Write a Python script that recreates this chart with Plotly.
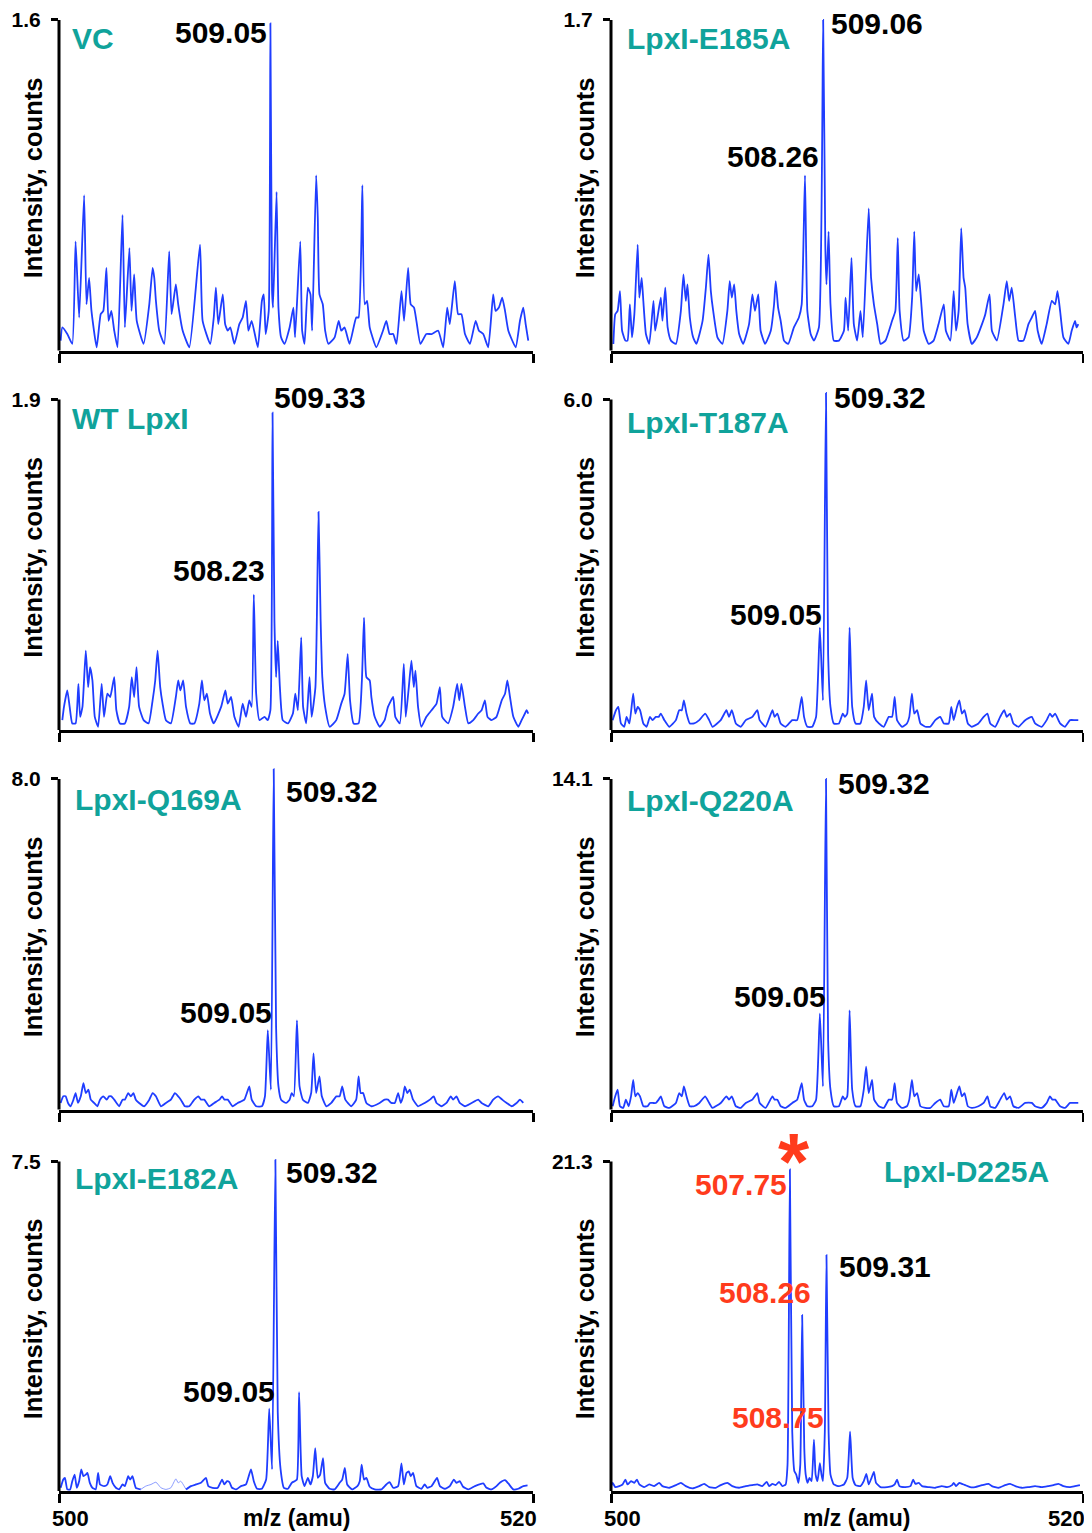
import plotly.graph_objects as go

W, H = 1076, 1533

# ------------------------------------------------------------------ data
panel_titles = ["VC", "LpxI-E185A", "WT LpxI", "LpxI-T187A",
                "LpxI-Q169A", "LpxI-Q220A", "LpxI-E182A", "LpxI-D225A"]
axis_max = [1.6, 1.7, 1.9, 6.0, 8.0, 14.1, 7.5, 21.3]   # top tick value (counts)
mz_range = [500, 520]
mz_ticks = [500, 520]
x_title = "m/z (amu)"
y_title = "Intensity, counts"

# spectra: m/z and intensity as % of each panel's top tick value
vc_mz = [500.07,500.14,500.35,500.56,500.70,500.85,501.06,501.16,501.27,501.37,
         501.59,501.76,501.87,502.00,502.09,502.21,502.33,502.47,502.68,502.78,
         502.97,503.06,503.17,503.28,503.57,503.81,503.95,504.02,504.09,504.23,
         504.44,504.65,504.75,504.93,505.03,505.22,505.50,505.95,506.06,506.38,
         506.53,506.62,506.72,506.91,507.01,507.12,507.23,507.40,507.61,507.75,
         507.89,507.99,508.13,508.39,508.56,508.64,508.72,508.85,508.92,508.99,
         509.03,509.18,509.26,509.37,509.51,509.73,509.89,509.96,510.18,510.26,
         510.36,510.50,510.61,510.68,510.85,510.92,510.99,511.13,511.23,511.37,
         511.63,511.80,511.91,512.05,512.26,512.54,512.64,512.80,512.90,513.00,
         513.11,513.39,513.67,513.81,513.95,514.10,514.24,514.45,514.56,514.73,
         514.84,514.98,515.08,515.25,515.50,515.72,516.00,516.21,516.38,516.49,
         516.70,516.84,516.98,517.13,517.34,517.58,517.72,517.90,518.11,518.32,
         518.42,518.56,518.70,518.82,518.96,519.27,519.45,519.59,519.69,519.80]
vc_pct = [3,7,5,2,33,10,47,14,22,12,
          1,11,12,25,9,12,6,1,41,7,
          31,12,23,9,2,14,25,22,15,6,
          2,30,11,20,14,6,1,32,9,2,
          10,19,8,17,8,6,7,2,8,10,
          15,6,9,1,15,17,5,12,99,18,
          13,48,13,4,2,7,13,4,33,6,
          2,19,17,6,53,40,17,14,6,2,
          4,9,6,7,2,10,10,50,14,15,
          7,1,6,9,5,5,2,18,9,25,
          14,13,9,2,5,5,6,1,13,8,
          21,11,11,5,2,9,6,5,1,17,
          12,13,16,12,6,1,9,13,8,3]

e185a_mz = [500.10,500.18,500.28,500.38,500.47,500.61,500.70,500.80,500.89,500.99,
            501.13,501.20,501.30,501.37,501.48,501.62,501.80,501.87,501.97,502.11,
            502.18,502.30,502.40,502.54,502.75,502.96,503.07,503.17,503.24,503.34,
            503.48,503.62,503.88,504.02,504.13,504.23,504.33,504.51,504.72,504.93,
            505.03,505.12,505.22,505.31,505.43,505.60,505.85,505.99,506.10,506.24,
            506.34,506.53,506.77,506.91,506.98,507.08,507.19,507.33,507.51,507.75,
            507.96,508.08,508.22,508.32,508.46,508.60,508.81,508.99,509.08,509.13,
            509.22,509.30,509.44,509.66,509.87,509.94,510.05,510.19,510.29,510.43,
            510.57,510.67,510.92,511.02,511.14,511.28,511.42,511.63,511.91,512.05,
            512.15,512.23,512.40,512.61,512.76,512.85,512.93,513.04,513.14,513.25,
            513.46,513.67,513.88,514.10,514.19,514.38,514.52,514.62,514.73,514.84,
            514.94,515.01,515.11,515.29,515.50,515.72,515.86,516.04,516.14,516.35,
            516.63,516.77,516.87,516.98,517.13,517.27,517.48,517.69,517.83,517.97,
            518.08,518.25,518.46,518.68,518.82,518.92,519.03,519.17,519.38,519.52,
            519.66,519.73,519.80]
e185a_pct = [2,11,12,18,6,3,3,14,4,11,
             32,16,22,15,5,2,15,6,10,16,
             9,19,7,3,2,12,23,15,20,10,
             4,2,9,19,29,18,12,4,2,12,
             21,16,20,12,5,2,8,17,12,17,
             6,2,6,14,21,13,9,3,2,7,
             10,14,53,12,5,3,7,100,32,20,
             36,14,3,3,6,16,6,28,8,3,
             12,4,43,22,14,8,2,3,9,12,
             34,12,3,4,16,36,18,23,15,6,
             2,3,8,14,6,3,18,6,12,37,
             22,19,8,2,4,8,11,17,6,3,
             14,21,15,19,10,3,3,8,10,12,
             6,2,8,15,14,18,12,4,2,6,
             9,7,8]

wt_mz = [500.14,500.21,500.35,500.45,500.56,500.70,500.82,500.89,500.99,501.13,
         501.23,501.31,501.41,501.51,501.65,501.80,501.90,502.04,502.16,502.33,
         502.42,502.57,502.78,502.96,503.07,503.17,503.27,503.38,503.57,503.78,
         503.95,504.06,504.16,504.27,504.37,504.51,504.72,504.93,505.03,505.12,
         505.24,505.36,505.54,505.71,505.92,506.03,506.13,506.24,506.37,506.53,
         506.84,507.02,507.12,507.26,507.40,507.58,507.75,507.89,508.03,508.13,
         508.22,508.32,508.46,508.67,508.81,508.92,509.01,509.09,509.16,509.23,
         509.32,509.44,509.66,509.87,509.97,510.08,510.22,510.30,510.43,510.57,
         510.66,510.82,510.95,511.04,511.11,511.23,511.42,511.70,511.91,512.05,
         512.18,512.28,512.43,512.64,512.78,512.87,512.97,513.11,513.18,513.32,
         513.53,513.74,513.88,514.10,514.19,514.38,514.55,514.63,514.76,514.87,
         514.97,515.04,515.15,515.29,515.50,515.72,515.93,516.07,516.17,516.42,
         516.63,516.80,516.89,516.98,517.13,517.27,517.48,517.69,517.83,517.97,
         518.08,518.25,518.46,518.68,518.82,518.92,519.03,519.17,519.38,519.52,
         519.66,519.73,519.80]
wt_pct = [3,7,12,7,2,2,14,4,7,24,
          13,19,15,4,1,14,4,11,10,16,
          6,2,2,7,16,10,19,7,3,2,
          9,15,24,13,8,3,2,10,15,12,
          15,7,2,2,8,15,9,11,5,2,
          7,12,8,10,4,1,8,4,9,7,
          41,11,3,4,3,6,96,33,16,27,
          13,3,2,5,11,6,28,7,2,16,
          4,13,66,33,16,7,1,3,8,11,
          23,9,2,2,15,34,16,15,10,4,
          1,3,7,10,4,2,20,4,13,21,
          13,18,7,1,4,6,8,13,4,2,
          7,14,9,14,7,2,3,5,6,9,
          4,3,4,9,11,15,10,4,1,3,
          5,6,5]

t187a_mz = [500.07,500.21,500.31,500.42,500.56,500.66,500.78,500.94,501.03,501.13,
            501.23,501.37,501.51,501.65,501.76,501.90,502.02,502.11,502.26,502.47,
            502.75,502.89,503.00,503.09,503.20,503.34,503.52,503.74,503.99,504.16,
            504.30,504.65,504.89,505.00,505.12,505.29,505.50,505.71,505.99,506.20,
            506.30,506.55,506.84,506.93,507.05,507.19,507.40,507.68,507.89,508.08,
            508.18,508.32,508.53,508.69,508.85,508.98,509.11,509.20,509.30,509.44,
            509.66,509.82,509.91,510.01,510.11,510.22,510.36,510.57,510.71,510.81,
            510.92,511.06,511.15,511.35,511.56,511.77,511.91,512.02,512.12,512.33,
            512.54,512.64,512.75,512.85,512.97,513.11,513.32,513.53,513.74,513.95,
            514.10,514.31,514.42,514.52,514.66,514.76,514.87,514.98,515.12,515.29,
            515.57,515.79,515.95,516.07,516.28,516.49,516.66,516.77,516.91,517.05,
            517.27,517.55,517.83,517.97,518.25,518.46,518.60,518.70,518.82,519.03,
            519.24,519.45,519.66,519.80]
t187a_pct = [3,6,7,2,1,4,2,11,5,7,
             6,2,1,4,3,4,4,5,3,1,
             3,6,6,9,5,2,2,3,5,3,
             1,3,6,4,6,2,1,3,4,6,
             3,1,6,4,5,2,1,3,3,10,
             4,1,1,4,31,9,102,23,7,2,
             2,5,4,5,31,7,2,2,7,15,
             6,11,4,2,1,4,4,10,3,1,
             2,4,11,5,6,2,1,1,3,4,
             2,2,7,3,7,9,5,6,2,1,
             2,4,5,2,1,4,6,4,5,2,
             1,3,4,2,1,3,5,4,5,2,
             1,3,3,3]

q169a_mz = [500.07,500.18,500.28,500.38,500.49,500.61,500.70,500.80,500.92,501.03,
            501.13,501.24,501.34,501.48,501.62,501.73,501.87,502.02,502.11,502.21,
            502.33,502.54,502.68,502.78,502.92,503.03,503.14,503.24,503.38,503.59,
            503.81,503.95,504.09,504.30,504.51,504.72,504.89,505.03,505.14,505.31,
            505.50,505.71,505.88,505.99,506.13,506.34,506.55,506.77,506.88,506.98,
            507.12,507.33,507.54,507.82,508.03,508.13,508.32,508.56,508.69,508.81,
            508.94,509.06,509.16,509.26,509.37,509.58,509.73,509.82,509.91,510.04,
            510.15,510.29,510.50,510.64,510.74,510.85,510.99,511.09,511.28,511.49,
            511.70,511.84,511.95,512.08,512.33,512.54,512.64,512.73,512.83,512.97,
            513.18,513.53,513.74,513.88,514.02,514.17,514.31,514.42,514.52,514.59,
            514.70,514.80,514.94,515.15,515.43,515.65,515.81,515.93,516.14,516.35,
            516.53,516.63,516.77,516.91,517.13,517.41,517.69,517.83,518.11,518.32,
            518.53,518.70,518.89,519.10,519.31,519.45,519.59]
q169a_pct = [2,4,4,2,1,3,5,2,4,8,
             5,6,3,2,1,3,4,3,4,4,
             3,1,3,3,5,4,5,3,2,1,
             3,5,4,1,2,3,5,4,3,1,
             1,3,4,3,3,1,2,3,4,3,
             3,1,2,3,7,3,1,1,4,24,
             6,103,25,7,3,2,3,5,4,27,
             7,3,2,5,17,5,10,4,1,2,
             4,4,7,3,1,3,10,5,5,2,
             1,2,3,3,2,2,5,2,4,7,
             5,6,3,1,2,3,4,2,1,2,
             4,3,4,2,1,2,3,2,1,3,
             4,3,2,1,2,3,2]

q220a_mz = [500.07,500.18,500.28,500.38,500.52,500.63,500.75,500.85,500.94,501.03,
            501.13,501.23,501.37,501.55,501.65,501.76,501.90,502.02,502.11,502.26,
            502.47,
            502.75,502.89,503.00,503.09,503.20,503.34,503.52,503.74,503.99,504.16,
            504.30,504.65,504.89,505.00,505.12,505.29,505.50,505.71,505.99,506.20,
            506.30,506.55,506.84,506.93,507.05,507.19,507.40,507.68,507.89,508.08,
            508.18,508.32,508.53,508.69,508.85,508.98,509.11,509.20,509.30,509.44,
            509.66,509.82,509.91,510.01,510.11,510.22,510.36,510.57,510.71,510.81,
            510.92,511.06,511.15,511.35,511.56,511.77,511.91,512.02,512.12,512.33,
            512.54,512.64,512.75,512.85,512.97,513.11,513.32,513.53,513.74,513.95,
            514.10,514.31,514.42,514.52,514.66,514.76,514.87,514.98,515.12,515.29,
            515.57,515.79,515.95,516.07,516.28,516.49,516.66,516.77,516.91,517.05,
            517.27,517.55,517.83,517.97,518.25,518.46,518.60,518.70,518.82,519.03,
            519.24,519.45,519.66,519.80]
q220a_pct = [1,4,6,1,0.5,3,1,4,9,4,
             5,4,1,1,2,2,2,3,4,1,
             0.5,
             2,5,4,7,4,1,1,2,4,2,
             0.5,2,4,3,4,1,0.5,2,3,5,
             2,0.5,4,3,3,1,0.5,2,3,8,
             3,1,1,3,29,7,100,21,6,1,
             1,4,3,4,30,6,1,1,6,13,
             5,9,3,1,0.5,3,3,8,2,0.5,
             1,3,9,4,5,1,0.5,0.5,2,3,
             1,1,6,2,5,7,4,5,1,0.5,
             1,2,4,1,0.5,3,5,3,4,1,
             0.5,2,2,1,0.5,2,4,3,3,1,
             0.5,2,2,2]

e182a_mz = [500.07,500.18,500.25,500.35,500.47,500.56,500.66,500.75,500.85,500.94,
            501.03,501.13,501.20,501.30,501.41,501.55,501.65,501.73,501.90,502.04,
            502.16,502.26,502.40,502.54,502.68,502.78,502.92,503.00,503.10,503.24,
            503.45,503.66,503.88,504.09,504.30,504.51,504.72,504.93,505.03,505.14,
            505.36,505.57,505.78,505.99,506.20,506.30,506.48,506.70,506.88,506.98,
            507.09,507.19,507.30,507.47,507.68,507.89,508.10,508.22,508.36,508.56,
            508.74,508.87,508.99,509.13,509.23,509.35,509.49,509.66,509.82,509.94,
            510.04,510.13,510.24,510.36,510.50,510.61,510.71,510.81,510.92,511.02,
            511.14,511.23,511.42,511.63,511.84,511.95,512.06,512.16,512.37,512.59,
            512.69,512.77,512.87,512.97,513.11,513.32,513.60,513.81,513.95,514.10,
            514.31,514.45,514.55,514.66,514.76,514.84,514.94,515.08,515.29,515.43,
            515.54,515.72,515.95,516.07,516.28,516.49,516.66,516.77,516.91,517.05,
            517.27,517.55,517.90,518.04,518.25,518.46,518.60,518.82,518.96,519.17,
            519.38,519.59,519.77]
e182a_pct = [1,3.5,4,0.5,0.5,3,5,1,3,6.6,
             4.5,5,5.5,2.5,1,0.5,5.5,2,1.5,2,
             4.5,2.5,1,0.5,2,1.5,4.5,3.5,4.5,1,
             0.5,1.5,2,2.7,1,0.5,1,3.7,2.5,3,
             0.5,1.5,2,2.5,4,1.5,1,1,3.5,2,
             3,2.7,1,0.5,1.5,2,6.6,3,0.7,0.7,
             3.5,25,6.6,100.5,24,6.6,1,0.7,2.5,3,
             3.5,30,4.5,1.5,4,2,4.5,13,4,5,
             10,2.5,0.7,0.5,2.5,3.5,7,2,0.5,1.5,
             3,8,3.5,4,1.3,0.5,0.5,2,2.7,1,
             1.5,8.4,2,5.5,6,4.5,5.5,1.5,0.7,2,
             1,1.5,4,1.5,0.7,1.5,3.5,2.5,3,1.3,
             0.5,1.5,2.3,1,0.5,1.5,2.5,3.3,2.3,0.5,
             0.7,1.5,1.7]
e182a_faint = (503.45, 505.36)   # stretch drawn with a thinner, fainter line

d225a_mz = [500.00,500.07,500.18,500.35,500.49,500.61,500.70,500.85,500.99,501.10,
            501.20,501.41,501.62,501.83,502.04,502.18,502.47,502.75,502.96,503.17,
            503.45,503.74,503.95,504.16,504.44,504.65,504.93,505.14,505.43,505.71,
            505.99,506.20,506.41,506.60,506.70,506.84,506.98,507.12,507.26,507.40,
            507.48,507.58,507.68,507.77,507.85,507.94,508.02,508.10,508.19,508.25,
            508.33,508.41,508.50,508.60,508.67,508.75,508.85,508.92,508.98,509.06,
            509.13,509.22,509.30,509.44,509.66,509.87,510.01,510.13,510.24,510.36,
            510.57,510.71,510.82,510.92,511.04,511.14,511.23,511.42,511.70,511.91,
            512.02,512.12,512.22,512.47,512.69,512.80,512.90,513.04,513.18,513.46,
            513.74,514.02,514.24,514.45,514.52,514.62,514.76,514.87,515.01,515.22,
            515.43,515.72,516.00,516.14,516.42,516.70,516.91,517.13,517.41,517.69,
            517.97,518.25,518.53,518.75,518.96,519.17,519.45,519.66,519.87]
d225a_pct = [1.5,2.5,1.2,1.5,2,3.5,2,3,2.5,3.5,
             2,1.2,2,1.5,2.5,1.5,1,1.8,2.5,1.5,
             0.8,1.5,2.2,1.2,1,1.8,2.5,1.5,1,1.5,
             1.8,2,1.5,2.8,1.5,2.2,1.8,2.8,1.5,2,
             8,97.6,18,6,5,2.5,8,53.4,13,5,
             2.5,4,3,15.6,5,3,8.5,5,3,18,
             71.6,18,5,2,1.5,2,4,18,4,1.8,
             1.5,3,5.2,2,4,5.8,2.5,1.2,1.2,1.5,
             2,3.5,1.5,1.2,1.5,3.5,2.2,2.5,1.5,1.2,
             1,1.5,1.2,1.8,2.5,1.5,2.5,2.2,1.8,1.2,
             1.2,1.8,2.2,1.5,1,1.8,2.2,1.5,1,1.2,
             1.5,1.2,1.5,1.8,2.2,1.5,1.2,1.5,1.8]

spectra_mz = [vc_mz, e185a_mz, wt_mz, t187a_mz, q169a_mz, q220a_mz, e182a_mz, d225a_mz]
spectra_pct = [vc_pct, e185a_pct, wt_pct, t187a_pct, q169a_pct, q220a_pct, e182a_pct, d225a_pct]
for m, p in zip(spectra_mz, spectra_pct):
    assert len(m) == len(p), (len(m), len(p))

# peak annotations per panel: (text, colour key)
peak_texts = [
    [("509.05", "k")],
    [("509.06", "k"), ("508.26", "k")],
    [("509.33", "k"), ("508.23", "k")],
    [("509.32", "k"), ("509.05", "k")],
    [("509.32", "k"), ("509.05", "k")],
    [("509.32", "k"), ("509.05", "k")],
    [("509.32", "k"), ("509.05", "k")],
    [("*", "r"), ("507.75", "r"), ("508.26", "r"), ("508.75", "r"), ("509.31", "k")],
]

# ------------------------------------------------------------------ style / layout
BLUE = "#1f3dff"
TEAL = "#10a39b"
RED = "#ff3b1c"
COLORS = {"k": "black", "r": RED}
FONT = "Liberation Sans, Arial, Helvetica, sans-serif"

OFF = 8          # the page body margin shifts the figure by 8 px; compensate
col_px = [(59, 533), (611, 1083)]                 # screen x pixel of 500 / 520
row_px = [(18, 349), (398, 729), (778, 1109), (1161, 1491)]  # screen y of top tick / zero
HEAD = 1.06                                        # head-room above top tick

# label placement in screen pixels: (x, y_center, xanchor)
title_pos = [(72, 38), (627, 38), (72, 418), (627, 422),
             (75, 800), (627, 801), (75, 1179), (884, 1172)]
peak_pos = [
    [(266, 32, "right")],
    [(832, 23, "left"), (818, 156, "right")],
    [(275, 397, "left"), (264, 570, "right")],
    [(835, 397, "left"), (821, 614, "right")],
    [(287, 792, "left"), (271, 1013, "right")],
    [(839, 784, "left"), (825, 997, "right")],
    [(287, 1173, "left"), (274, 1392, "right")],
    [(794, 1135, "center"), (786, 1185, "right"), (810, 1293, "right"),
     (823, 1418, "right"), (840, 1267, "left")],
]
PAD = {"left": -3, "right": 3, "center": 0}


def px_x(p):
    return (p - OFF) / W


def px_y(p):
    return 1 - (p - OFF) / H


fig = go.Figure()
annotations = []
shapes = []
layout_axes = {}

for i in range(8):
    r, c = divmod(i, 2)
    xname = "x" if i == 0 else f"x{i + 1}"
    yname = "y" if i == 0 else f"y{i + 1}"
    xkey = "xaxis" if i == 0 else f"xaxis{i + 1}"
    ykey = "yaxis" if i == 0 else f"yaxis{i + 1}"
    ymax = axis_max[i]
    top, zero = row_px[r]
    head = min(HEAD, (zero - OFF) / (zero - top))
    dom_top_px = zero - (zero - top) * head
    x0p, x1p = col_px[c]

    layout_axes[xkey] = dict(
        domain=[px_x(x0p), px_x(x1p)], range=mz_range, anchor=yname,
        showline=True, linewidth=3, linecolor="black",
        ticks="outside", tickvals=mz_ticks, ticklen=9, tickwidth=3, tickcolor="black",
        showticklabels=False, showgrid=False, zeroline=False, fixedrange=True)
    layout_axes[ykey] = dict(
        domain=[px_y(zero), min(1.0, px_y(dom_top_px))], range=[0, ymax * head],
        anchor=xname,
        showline=False, ticks="outside", tickvals=[ymax], ticktext=[f"{ymax:.1f}"],
        ticklen=7, tickwidth=2.5, tickcolor="black", ticklabelstandoff=6,
        ticklabeloverflow="allow",
        tickfont=dict(family=FONT, size=21, color="black", weight="bold"),
        showgrid=False, zeroline=False, fixedrange=True)

    # y axis line from 0 to the top tick
    shapes.append(dict(type="line", xref=f"{xname} domain", yref=yname,
                       x0=0, x1=0, y0=-ymax * 0.006, y1=ymax,
                       line=dict(color="black", width=3)))

    mz = spectra_mz[i]
    y = [p / 100 * ymax for p in spectra_pct[i]]
    line_kw = dict(shape="spline", smoothing=0.45)
    if i == 6:
        a, b = e182a_faint
        seg1 = [(m, v) for m, v in zip(mz, y) if m <= a]
        seg2 = [(m, v) for m, v in zip(mz, y) if a <= m <= b]
        seg3 = [(m, v) for m, v in zip(mz, y) if m >= b]
        for seg, wdt, col in [(seg1, 1.8, BLUE), (seg2, 0.8, "#6f84ff"), (seg3, 1.8, BLUE)]:
            fig.add_trace(go.Scatter(x=[s[0] for s in seg], y=[s[1] for s in seg],
                                     mode="lines", line=dict(color=col, width=wdt, **line_kw),
                                     xaxis=xname, yaxis=yname, hoverinfo="skip"))
    else:
        fig.add_trace(go.Scatter(x=mz, y=y, mode="lines",
                                 line=dict(color=BLUE, width=1.8, **line_kw),
                                 xaxis=xname, yaxis=yname, hoverinfo="skip"))

    # panel title
    tx, ty = title_pos[i]
    annotations.append(dict(text=panel_titles[i], xref="paper", yref="paper",
                            x=px_x(tx - 2), y=px_y(ty - 1), xanchor="left",
                            yanchor="middle", showarrow=False,
                            font=dict(family=FONT, size=30, color=TEAL, weight="bold")))
    # peak labels
    for (txt, ck), (px, py, anc) in zip(peak_texts[i], peak_pos[i]):
        if txt == "*":
            # py is the top of the glyph; the box is cut just below the glyph
            annotations.append(dict(text=txt, xref="paper", yref="paper",
                                    x=px_x(px), y=px_y(py - 21), xanchor="center",
                                    yanchor="top", valign="top", height=50,
                                    showarrow=False,
                                    font=dict(family=FONT, size=80, color=COLORS[ck],
                                              weight="bold")))
        else:
            annotations.append(dict(text=txt, xref="paper", yref="paper",
                                    x=px_x(px + PAD[anc]), y=px_y(py - 1), xanchor=anc,
                                    yanchor="middle", showarrow=False,
                                    font=dict(family=FONT, size=30, color=COLORS[ck],
                                              weight="bold")))
    # y axis title
    annotations.append(dict(text=y_title, xref="paper", yref="paper",
                            x=px_x(x0p - 26), y=px_y((top + zero) / 2 - 7),
                            xanchor="center", yanchor="middle", textangle=-90,
                            showarrow=False,
                            font=dict(family=FONT, size=25.5, color="black", weight="bold")))

# bottom-row x labels
for c in range(2):
    x0p, x1p = col_px[c]
    yl = px_y(1518)
    annotations.append(dict(text=str(mz_ticks[0]), xref="paper", yref="paper",
                            x=px_x(x0p - 9), y=yl, xanchor="left", yanchor="middle",
                            showarrow=False,
                            font=dict(family=FONT, size=22, color="black", weight="bold")))
    annotations.append(dict(text=str(mz_ticks[1]), xref="paper", yref="paper",
                            x=px_x(x1p + (6 if c == 0 else 4)), y=yl, xanchor="right",
                            yanchor="middle", showarrow=False,
                            font=dict(family=FONT, size=22, color="black", weight="bold")))
    annotations.append(dict(text=x_title, xref="paper", yref="paper",
                            x=px_x((x0p + x1p) / 2 + (0 if c == 0 else 9)), y=yl,
                            xanchor="center", yanchor="middle", showarrow=False,
                            font=dict(family=FONT, size=23, color="black", weight="bold")))

fig.update_layout(
    width=W, height=H, margin=dict(l=0, r=0, t=0, b=0),
    paper_bgcolor="white", plot_bgcolor="white", showlegend=False,
    annotations=annotations, shapes=shapes, **layout_axes)

fig.write_html("out.html")
